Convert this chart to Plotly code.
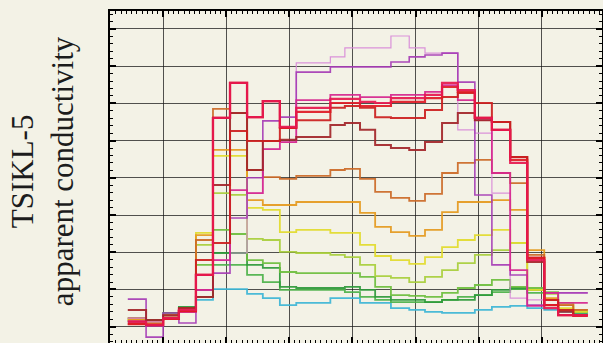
import plotly.graph_objects as go

# Station edges along the TSIKL-5 profile (left edge of each reading, plus the end)
station_edges = [4.4, 7.3, 10.0, 12.5, 15.2, 17.9, 20.6, 23.3, 25.8, 28.5, 31.1, 33.8,
                 36.5, 38.8, 41.2, 43.6, 46.1, 49.0, 51.5, 54.2, 56.7, 59.4, 62.1, 65.0,
                 67.7, 70.4, 72.6, 75.0, 77.3]

# Apparent conductivity per station, one list per channel
ch_pink = [2.3, 1.3, 2.9, 4.5, 9.9, 17.9, 19.8, 35.9, 47.7, 49.6, 70.9, 70.9, 72.5, 74.9,
           74.9, 74.9, 78.1, 74.9, 73.5, 73.5, 52.9, 52.0, 35.9, 7.7, 7.2, 9.1, 9.1, 9.1]
ch_purple = [7.4, -2.8, 3.7, 1.0, 9.9, 14.4, 29.2, 40.0, 55.3, 56.3, 68.4, 68.4, 69.8, 69.8,
             69.8, 69.8, 71.1, 72.5, 73.0, 73.5, 65.7, 35.4, 16.6, 13.9, 5.8, 9.1, 9.1, 9.1]
ch_magenta = [1.5, 0.2, 2.3, 3.9, 9.9, 17.9, 36.7, 35.9, 47.7, 49.6, 60.9, 60.9, 62.3, 62.3,
              61.7, 61.7, 62.3, 62.3, 63.1, 64.9, 60.9, 55.5, 41.3, 15.2, 5.6, 9.1, 6.4, 6.4]
ch_crimson = [1.3, 0.5, 2.3, 4.5, 13.9, 56.1, 65.5, 56.3, 60.6, 53.7, 58.8, 58.8, 61.2, 61.2,
              60.4, 60.1, 61.4, 61.4, 62.3, 65.5, 63.6, 56.1, 52.9, 44.0, 17.9, 5.0, 3.1, 3.1]
ch_red = [0.7, 0.5, 2.1, 4.2, 13.9, 56.1, 65.5, 56.3, 60.6, 53.4, 57.7, 57.7, 60.1, 60.1,
          59.3, 59.3, 60.4, 60.4, 61.4, 64.4, 63.1, 56.1, 52.9, 44.8, 18.5, 5.8, 3.1, 2.9]
ch_scarlet = [0.7, 0.5, 2.1, 4.2, 17.9, 22.5, 52.6, 49.9, 49.9, 53.4, 55.5, 55.5, 58.8, 59.3,
              58.8, 56.3, 56.1, 56.1, 58.2, 61.7, 62.8, 60.1, 55.0, 45.6, 18.5, 7.2, 4.5, 3.1]
ch_darkred = [4.5, 1.8, 3.1, 5.0, 8.0, 38.1, 57.4, 42.1, 49.9, 50.2, 51.0, 51.0, 54.2, 54.7,
              52.9, 48.8, 48.0, 47.5, 49.6, 54.7, 57.4, 55.5, 55.0, 45.6, 17.4, 5.8, 4.0, 3.1]
ch_brown = [2.3, 1.3, 3.1, 5.0, 23.3, 58.5, 57.4, 42.1, 40.2, 39.7, 40.5, 40.5, 42.1, 42.4,
            39.7, 36.2, 34.6, 33.8, 35.7, 41.3, 44.0, 44.8, 41.3, 38.6, 19.3, 7.2, 5.8, 4.5]
ch_amber = [1.8, 0.7, 2.9, 4.8, 24.6, 47.5, 47.5, 34.0, 32.7, 32.7, 33.5, 33.5, 33.5, 33.5,
            30.6, 26.8, 25.4, 24.4, 26.0, 30.8, 33.5, 33.5, 34.0, 31.4, 20.6, 7.7, 5.8, 4.5]
ch_yellow = [1.8, 1.0, 2.9, 5.0, 25.2, 45.9, 45.9, 31.9, 31.4, 25.4, 26.0, 26.0, 25.2, 25.2,
             22.0, 19.0, 17.9, 16.9, 18.7, 21.4, 23.3, 24.6, 26.0, 22.5, 9.9, 7.2, 5.0, 4.0]
ch_lime = [2.1, 1.3, 3.1, 4.8, 22.0, 35.9, 35.4, 23.6, 23.3, 20.1, 19.8, 19.8, 19.3, 18.7,
           16.6, 13.6, 13.1, 12.0, 13.4, 15.2, 17.1, 19.3, 20.6, 22.5, 9.9, 8.8, 6.4, 4.5]
ch_green = [1.8, 1.0, 2.9, 4.8, 16.6, 26.0, 24.9, 17.9, 17.1, 14.7, 14.4, 14.4, 14.4, 14.4,
            13.4, 10.7, 8.5, 8.3, 8.0, 9.1, 10.4, 11.2, 12.6, 10.7, 10.4, 9.3, 4.5, 4.0]
ch_darkgreen = [2.3, 1.8, 3.7, 5.3, 8.0, 19.8, 19.8, 16.6, 15.8, 10.7, 10.4, 10.4, 10.4, 10.7,
                9.9, 8.0, 7.2, 7.2, 6.6, 7.2, 7.2, 8.5, 9.9, 10.4, 9.9, 9.1, 4.5, 3.4]
ch_midgreen = [1.5, 1.0, 2.6, 4.5, 9.9, 16.6, 16.6, 13.9, 12.0, 9.9, 9.9, 9.9, 9.9, 9.3,
               8.0, 7.2, 6.6, 6.6, 6.6, 7.2, 8.0, 8.5, 9.3, 10.1, 9.1, 7.2, 4.5, 4.0]
ch_cyan = [1.3, 1.3, 2.9, 4.8, 7.2, 10.1, 10.1, 8.8, 7.7, 5.8, 6.4, 6.4, 7.7, 7.7,
           6.4, 6.4, 5.0, 4.5, 4.0, 3.7, 3.7, 4.5, 5.3, 5.6, 5.0, 4.5, 4.0, 3.7]

# Drawing order: low channels first, red channels on top
channels = [
    (ch_cyan, "#3db6d6", 1.8),
    (ch_midgreen, "#4db34a", 1.8),
    (ch_darkgreen, "#2e9a3a", 1.8),
    (ch_green, "#6dbe3c", 1.8),
    (ch_lime, "#a9cf3b", 1.8),
    (ch_yellow, "#e2dc2c", 1.8),
    (ch_amber, "#e59a1e", 1.8),
    (ch_brown, "#cc6a27", 1.8),
    (ch_pink, "#d98ad9", 1.2),
    (ch_purple, "#a63cb6", 1.6),
    (ch_magenta, "#d6268f", 1.8),
    (ch_darkred, "#a3262a", 2.0),
    (ch_scarlet, "#cc1f1f", 2.0),
    (ch_red, "#e01b25", 2.2),
    (ch_crimson, "#e6174f", 2.2),
]

fig = go.Figure()
for values, color, width in channels:
    fig.add_trace(go.Scatter(
        x=station_edges,
        y=values + [values[-1]],
        mode="lines",
        line=dict(color=color, width=width, shape="hv"),
        opacity=0.92,
        hoverinfo="skip",
        showlegend=False,
    ))

paper = "#f3f2e6"
grid = "rgba(25,25,25,0.75)"

fig.update_xaxes(
    range=[1.58, 79.55], tick0=0, dtick=10,
    showgrid=True, gridcolor=grid, gridwidth=1, zeroline=False,
    showline=True, linecolor="black", linewidth=2, mirror="allticks",
    ticks="inside", ticklen=6, tickcolor="black", tickwidth=1.5,
    showticklabels=False,
    minor=dict(dtick=10 / 12, tick0=0, ticks="inside", ticklen=3,
               tickcolor="black", tickwidth=1, showgrid=False),
)
fig.update_yaxes(
    range=[-4.38, 84.82], tick0=0, dtick=10,
    showgrid=True, gridcolor=grid, gridwidth=1, zeroline=False,
    showline=True, linecolor="black", linewidth=2, mirror="allticks",
    ticks="inside", ticklen=6, tickcolor="black", tickwidth=1.5,
    showticklabels=False,
    minor=dict(dtick=2, tick0=0, ticks="inside", ticklen=3,
               tickcolor="black", tickwidth=1, showgrid=False),
)

fig.add_annotation(
    text="TSIKL-5<br>apparent conductivity",
    xref="paper", yref="paper",
    x=-0.138, y=0.518,
    xanchor="center", yanchor="middle",
    textangle=-90, showarrow=False,
    font=dict(family="Liberation Serif, Times New Roman, serif", size=31, color="#1c1c1c"),
)

fig.update_layout(
    width=603, height=343,
    margin=dict(l=110, r=1, t=11, b=0),
    paper_bgcolor=paper, plot_bgcolor=paper,
    showlegend=False,
)

fig.write_html("out.html")
